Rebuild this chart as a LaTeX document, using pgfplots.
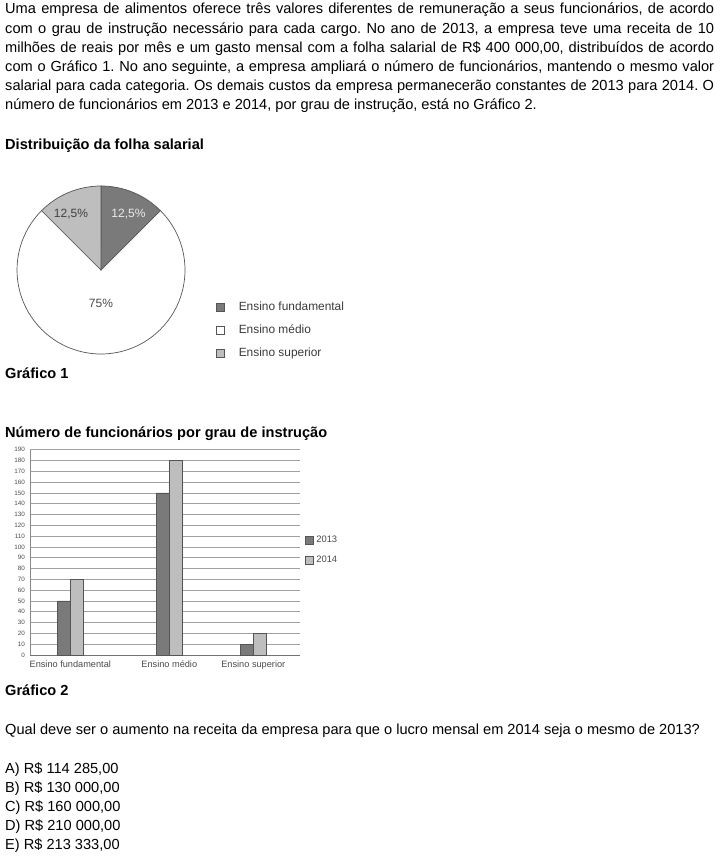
\documentclass[border=0pt]{standalone}
\usepackage{pgfplots}
\pgfplotsset{compat=1.18}
\usepackage{pgfplotstable}
\usepackage{fontspec}
\setmainfont{Liberation Sans}
\frenchspacing
\definecolor{c13}{HTML}{7A7A7A}
\definecolor{c14}{HTML}{BEBEBE}
\definecolor{gridc}{HTML}{A0A0A0}
\definecolor{axc}{HTML}{8A8A8A}
\definecolor{tickc}{HTML}{4A4A4A}
\definecolor{legc}{HTML}{3A3A3A}
\definecolor{edgec}{HTML}{555555}
\newcommand{\body}{\fontsize{14.6}{19}\selectfont}
\newcommand{\jl}[1]{\makebox[709pt][s]{#1}}

\pgfplotstableread{
cat share
fund 12.5
medio 75
sup 12.5
}\piedata

\pgfplotstableread{
x y2013 y2014
70.3 50 70
169.3 150 180
253.3 10 20
}\bardata

\begin{document}
\begin{tikzpicture}[x=1pt,y=-1pt]
\path[use as bounding box] (0,0) rectangle (720,856);
\begin{scope}[every node/.style={anchor=base west, inner sep=0pt}]
\node at (5,14) {\body\jl{Uma empresa de alimentos oferece três valores diferentes de remuneração a seus funcionários, de acordo}};
\node at (5,34) {\body\jl{com o grau de instrução necessário para cada cargo. No ano de 2013, a empresa teve uma receita de 10}};
\node at (5,53) {\body\jl{milhões de reais por mês e um gasto mensal com a folha salarial de R\$ 400 000,00, distribuídos de acordo}};
\node at (5,72) {\body\jl{com o Gráfico 1. No ano seguinte, a empresa ampliará o número de funcionários, mantendo o mesmo valor}};
\node at (5,91) {\body\jl{salarial para cada categoria. Os demais custos da empresa permanecerão constantes de 2013 para 2014. O}};
\node at (5,110) {\body número de funcionários em 2013 e 2014, por grau de instrução, está no Gráfico 2.};
\node at (5,149) {\body\bfseries Distribuição da folha salarial};
\node at (5,378) {\body\bfseries Gráfico 1};
\node at (5,437) {\body\bfseries Número de funcionários por grau de instrução};
\node at (5,695) {\body\bfseries Gráfico 2};
\node at (5,734) {\body Qual deve ser o aumento na receita da empresa para que o lucro mensal em 2014 seja o mesmo de 2013?};
\node at (5,773) {\body A) R\$ 114 285,00};
\node at (5,792) {\body B) R\$ 130 000,00};
\node at (5,811) {\body C) R\$ 160 000,00};
\node at (5,830) {\body D) R\$ 210 000,00};
\node at (5,849) {\body E) R\$ 213 333,00};
\end{scope}

\pgfplotstablegetelem{0}{share}\of\piedata\let\sA\pgfplotsretval
\pgfplotstablegetelem{1}{share}\of\piedata\let\sB\pgfplotsretval
\pgfplotstablegetelem{2}{share}\of\piedata\let\sC\pgfplotsretval
\pgfmathsetmacro\aA{90-3.6*\sA}
\pgfmathsetmacro\aB{\aA-3.6*\sB}
\pgfmathsetmacro\aC{\aB-3.6*\sC}

\begin{axis}[at={(101pt,-270pt)}, anchor=center, x=1pt, y=1pt,
  xmin=-84, xmax=84, ymin=-84, ymax=84, hide axis, clip=false,
  legend style={at={(1.1845,0.14)}, anchor=west, draw=none, fill=none, inner sep=0pt,
    font=\fontsize{11.9}{13}\selectfont, row sep=11pt,
    nodes={inner sep=0pt, text height=9pt, text depth=3pt, text=legc},
    /tikz/every odd column/.append style={column sep=14pt}},
  legend cell align=left,
  legend image code/.code={\draw[#1, line width=0.6pt] (0pt,-4pt) rectangle (8pt,4pt);}]
\addlegendimage{fill=c13, draw=edgec}
\addlegendentry{Ensino fundamental}
\addlegendimage{fill=white, draw=edgec}
\addlegendentry{Ensino médio}
\addlegendimage{fill=c14, draw=edgec}
\addlegendentry{Ensino superior}
\filldraw[fill=white, draw=edgec, line width=0.7pt] (axis cs:0,0) -- (axis cs:{84*cos(\aA)},{84*sin(\aA)}) arc[start angle=\aA, end angle=\aB, radius=84pt] -- cycle;
\filldraw[fill=c13, draw=edgec, line width=0.7pt] (axis cs:0,0) -- (axis cs:0,84) arc[start angle=90, end angle=\aA, radius=84pt] -- cycle;
\filldraw[fill=c14, draw=edgec, line width=0.7pt] (axis cs:0,0) -- (axis cs:{84*cos(\aB)},{84*sin(\aB)}) arc[start angle=\aB, end angle=\aC, radius=84pt] -- cycle;
\node[text=white!92!black, font=\fontsize{12}{13}\selectfont] at (axis cs:27.5,56) {12,5\%};
\node[text=black!75, font=\fontsize{12}{13}\selectfont] at (axis cs:-30,56) {12,5\%};
\node[text=black!70, font=\fontsize{12}{13}\selectfont] at (axis cs:0,-33) {75\%};
\end{axis}

\begin{axis}[at={(30pt,-655pt)}, anchor=south west, x=1pt, y=1.0805pt,
  xmin=30, xmax=300, ymin=0, ymax=190,
  axis x line=bottom, axis y line=left,
  x axis line style={draw=black!55, line width=0.9pt, -}, y axis line style={draw=axc, -},
  ybar=0pt, bar width=13pt,
  ytick={0,10,...,190}, ymajorgrids, grid style={draw=gridc, line width=0.75pt},
  major tick length=0pt,
  /pgf/number format/assume math mode=true,
  yticklabel style={font=\fontsize{6.3}{7}\selectfont, text=tickc, inner sep=0pt, xshift=-5pt},
  xtick={70.3,169.3,253.3},
  xticklabels={Ensino fundamental, Ensino médio, Ensino superior},
  xticklabel style={font=\fontsize{9.2}{10}\selectfont, text=tickc, inner sep=0pt, yshift=-6pt},
  legend style={at={(1.0185,0.512)}, anchor=west, draw=none, fill=none, inner sep=0pt,
    font=\fontsize{9.4}{10}\selectfont, row sep=11pt,
    nodes={inner sep=0pt, text height=7pt, text depth=2pt, text=tickc},
    /tikz/every odd column/.append style={column sep=2.5pt}},
  legend image code/.code={\draw[#1, line width=0.6pt] (0pt,-4pt) rectangle (8pt,4pt);}]
\addplot[fill=c13, draw=edgec] table[x=x, y=y2013] {\bardata};
\addplot[fill=c14, draw=edgec] table[x=x, y=y2014] {\bardata};
\legend{2013,2014}
\end{axis}
\end{tikzpicture}
\end{document}
